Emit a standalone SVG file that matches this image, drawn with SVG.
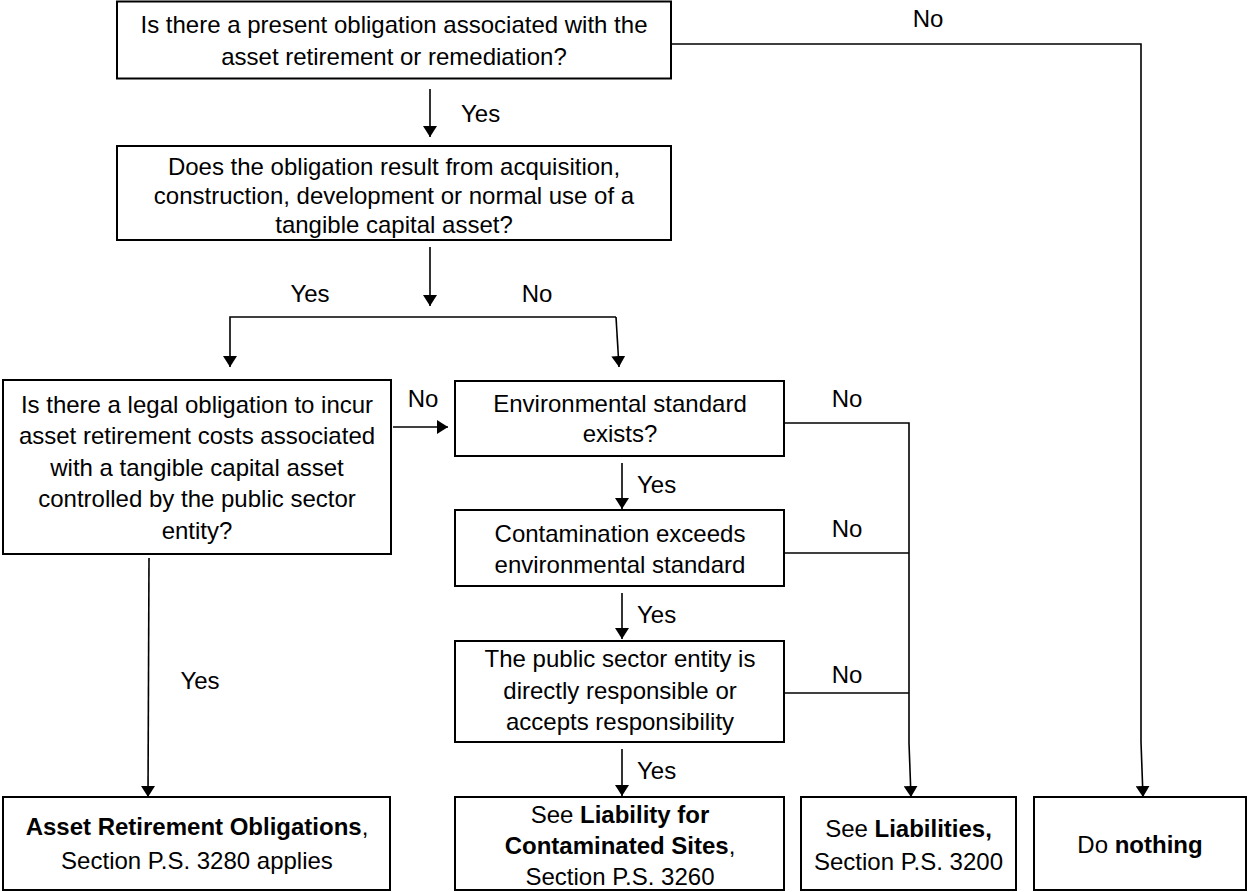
<svg xmlns="http://www.w3.org/2000/svg" width="1248" height="892" viewBox="0 0 1248 892">
<style>
.box{fill:#fff;stroke:#000;stroke-width:2}
.t{font-family:"Liberation Sans",Arial,sans-serif;font-size:24px;fill:#000;text-anchor:middle}
.l{font-family:"Liberation Sans",Arial,sans-serif;font-size:24px;fill:#000}
.c{fill:none;stroke:#000;stroke-width:1.6}
.b{font-weight:bold}
</style>
<defs>
<marker id="ah" viewBox="0 0 11 14" refX="11" refY="7" markerWidth="11" markerHeight="14" markerUnits="userSpaceOnUse" orient="auto">
<path d="M0,0 L11,7 L0,14 z" fill="#000"/>
</marker>
</defs>
<rect width="1248" height="892" fill="#fff"/>
<g id="connectors">
<path class="c" d="M671,44 H1141 V742 L1143,797" marker-end="url(#ah)"/>
<path class="c" d="M430,89 V137" marker-end="url(#ah)"/>
<path class="c" d="M430,247 V306" marker-end="url(#ah)"/>
<path class="c" d="M616,317 H230 V367" marker-end="url(#ah)"/>
<path class="c" d="M616,317 L619,367" marker-end="url(#ah)"/>
<path class="c" d="M393,427 H448" marker-end="url(#ah)"/>
<path class="c" d="M784,423 H909 V743 L911,797" marker-end="url(#ah)"/>
<path class="c" d="M784,553 H909"/>
<path class="c" d="M784,693 H909"/>
<path class="c" d="M622,463 V509" marker-end="url(#ah)"/>
<path class="c" d="M622,593 V639" marker-end="url(#ah)"/>
<path class="c" d="M622,749 V796" marker-end="url(#ah)"/>
<path class="c" d="M149,558 L148,797" marker-end="url(#ah)"/>
<text class="t" x="928" y="27">No</text>
<text class="l" x="461" y="122">Yes</text>
<text class="t" x="310" y="302">Yes</text>
<text class="t" x="537" y="302">No</text>
<text class="t" x="423" y="407">No</text>
<text class="t" x="847" y="407">No</text>
<text class="l" x="637" y="493">Yes</text>
<text class="t" x="847" y="537">No</text>
<text class="l" x="637" y="623">Yes</text>
<text class="t" x="847" y="683">No</text>
<text class="l" x="637" y="779">Yes</text>
<text class="t" x="200" y="689">Yes</text>
</g>
<g id="q1">
<rect class="box" x="117" y="1.5" width="554" height="77"/>
<text class="t" x="394" y="33">Is there a present obligation associated with the</text>
<text class="t" x="394" y="65">asset retirement or remediation?</text>
</g>
<g id="q2">
<rect class="box" x="117" y="146" width="554" height="94"/>
<text class="t" x="394" y="175">Does the obligation result from acquisition,</text>
<text class="t" x="394" y="204">construction, development or normal use of a</text>
<text class="t" x="394" y="233">tangible capital asset?</text>
</g>
<g id="q3">
<rect class="box" x="3" y="380" width="388" height="174"/>
<text class="t" x="197" y="413">Is there a legal obligation to incur</text>
<text class="t" x="197" y="444">asset retirement costs associated</text>
<text class="t" x="197" y="476">with a tangible capital asset</text>
<text class="t" x="197" y="507">controlled by the public sector</text>
<text class="t" x="197" y="539">entity?</text>
</g>
<g id="env">
<rect class="box" x="455" y="381" width="329" height="75"/>
<text class="t" x="620" y="412">Environmental standard</text>
<text class="t" x="620" y="442">exists?</text>
</g>
<g id="contam">
<rect class="box" x="455" y="510" width="329" height="76"/>
<text class="t" x="620" y="542">Contamination exceeds</text>
<text class="t" x="620" y="573">environmental standard</text>
</g>
<g id="resp">
<rect class="box" x="455" y="641" width="329" height="101"/>
<text class="t" x="620" y="667">The public sector entity is</text>
<text class="t" x="620" y="699">directly responsible or</text>
<text class="t" x="620" y="730">accepts responsibility</text>
</g>
<g id="aro">
<rect class="box" x="3" y="797" width="387" height="93"/>
<text class="t" x="197" y="835"><tspan class="b">Asset Retirement Obligations</tspan>,</text>
<text class="t" x="197" y="869">Section P.S. 3280 applies</text>
</g>
<g id="lcs">
<rect class="box" x="455" y="797" width="329" height="93"/>
<text class="t" x="620" y="823">See <tspan class="b">Liability for</tspan></text>
<text class="t" x="620" y="854"><tspan class="b">Contaminated Sites</tspan>,</text>
<text class="t" x="620" y="885">Section P.S. 3260</text>
</g>
<g id="liab">
<rect class="box" x="801" y="797" width="215" height="93"/>
<text class="t" x="908.5" y="837">See <tspan class="b">Liabilities,</tspan></text>
<text class="t" x="908.5" y="870">Section P.S. 3200</text>
</g>
<g id="nothing">
<rect class="box" x="1034" y="797" width="212" height="93"/>
<text class="t" x="1140" y="853">Do <tspan class="b">nothing</tspan></text>
</g>
</svg>
